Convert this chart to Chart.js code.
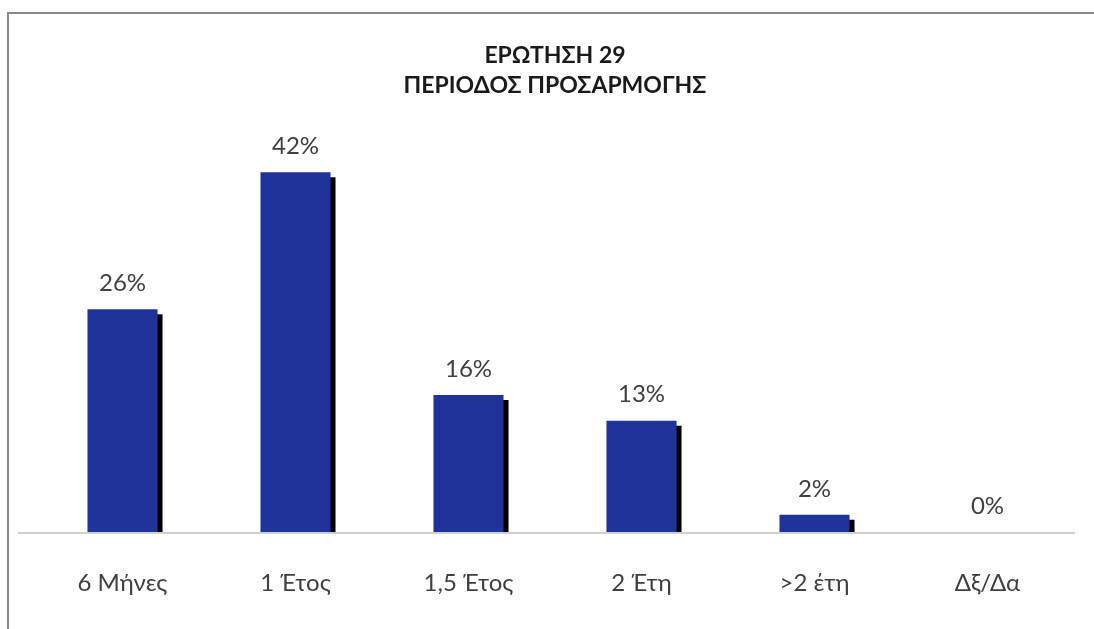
<!DOCTYPE html>
<html>
<head>
<meta charset="utf-8">
<script src="https://cdn.jsdelivr.net/npm/chart.js@4"></script>
<style>
  html, body { margin: 0; padding: 0; background: #fff; }
  #wrap { position: relative; width: 1094px; height: 629px; overflow: hidden; }
  #frame { position: absolute; left: 7px; top: 12px; right: 0; bottom: 0;
           border-top: 2px solid #8a8a8a; border-left: 2px solid #8a8a8a; }
  canvas { position: absolute; left: 0; top: 0; }
</style>
</head>
<body>
<div id="wrap">
  <div id="frame"></div>
  <canvas id="chart" width="1094" height="629"></canvas>
</div>
<script>
// chart data
const categories = ['6 Μήνες', '1 Έτος', '1,5 Έτος', '2 Έτη', '>2 έτη', 'Δξ/Δα'];
const percentages = [26, 42, 16, 13, 2, 0];
const titleLines = ['ΕΡΩΤΗΣΗ 29', 'ΠΕΡΙΟΔΟΣ ΠΡΟΣΑΡΜΟΓΗΣ'];

const FONT = "Lato, 'Open Sans', sans-serif";

// black drop shadow on the right side of every bar
const barShadow = {
    id: 'barShadow',
    beforeDatasetsDraw(chart) {
        const ctx = chart.ctx;
        ctx.save();
        ctx.shadowColor = '#000';
        ctx.shadowOffsetX = 5;
        ctx.shadowOffsetY = 5;
        ctx.shadowBlur = 0;
    },
    afterDatasetsDraw(chart) {
        chart.ctx.restore();
    }
};

// percentage labels above the bars
const valueLabels = {
    id: 'valueLabels',
    afterDraw(chart) {
        const ctx = chart.ctx;
        const meta = chart.getDatasetMeta(0);
        ctx.save();
        ctx.font = '24px ' + FONT;
        ctx.fillStyle = '#404040';
        ctx.textAlign = 'center';
        ctx.textBaseline = 'middle';
        meta.data.forEach(function(bar, i) {
            ctx.fillText(percentages[i] + '%', bar.x, bar.y - 26);
        });
        ctx.restore();
    }
};

// long light baseline under the bars
const baseLine = {
    id: 'baseLine',
    beforeDatasetsDraw(chart) {
        const ctx = chart.ctx;
        const y = chart.scales.y.getPixelForValue(0);
        ctx.save();
        ctx.strokeStyle = '#d0d0d0';
        ctx.lineWidth = 2;
        ctx.beginPath();
        ctx.moveTo(18, y + 1);
        ctx.lineTo(1075, y + 1);
        ctx.stroke();
        ctx.restore();
    }
};

new Chart(document.getElementById('chart').getContext('2d'), {
    type: 'bar',
    data: {
        labels: categories,
        datasets: [{
            data: percentages,
            backgroundColor: '#20339a',
            borderWidth: 0,
            barPercentage: 0.81,
            categoryPercentage: 0.5
        }]
    },
    options: {
        responsive: false,
        animation: false,
        layout: { padding: { left: 36, right: 20, top: 0, bottom: 0 } },
        plugins: {
            legend: { display: false },
            tooltip: { enabled: false },
            title: {
                display: true,
                text: titleLines,
                color: '#1a1a1a',
                font: { family: FONT, size: 23, weight: 'bold', lineHeight: 1.3 },
                padding: { top: 41, bottom: 3 }
            }
        },
        scales: {
            x: {
                grid: { display: false, drawTicks: false },
                border: { display: false },
                ticks: {
                    color: '#404040',
                    font: { family: FONT, size: 24 },
                    padding: 37
                },
                afterFit(scale) { scale.height = 97; }
            },
            y: {
                display: false,
                min: 0,
                max: 50
            }
        }
    },
    plugins: [baseLine, barShadow, valueLabels]
});
</script>
</body>
</html>
